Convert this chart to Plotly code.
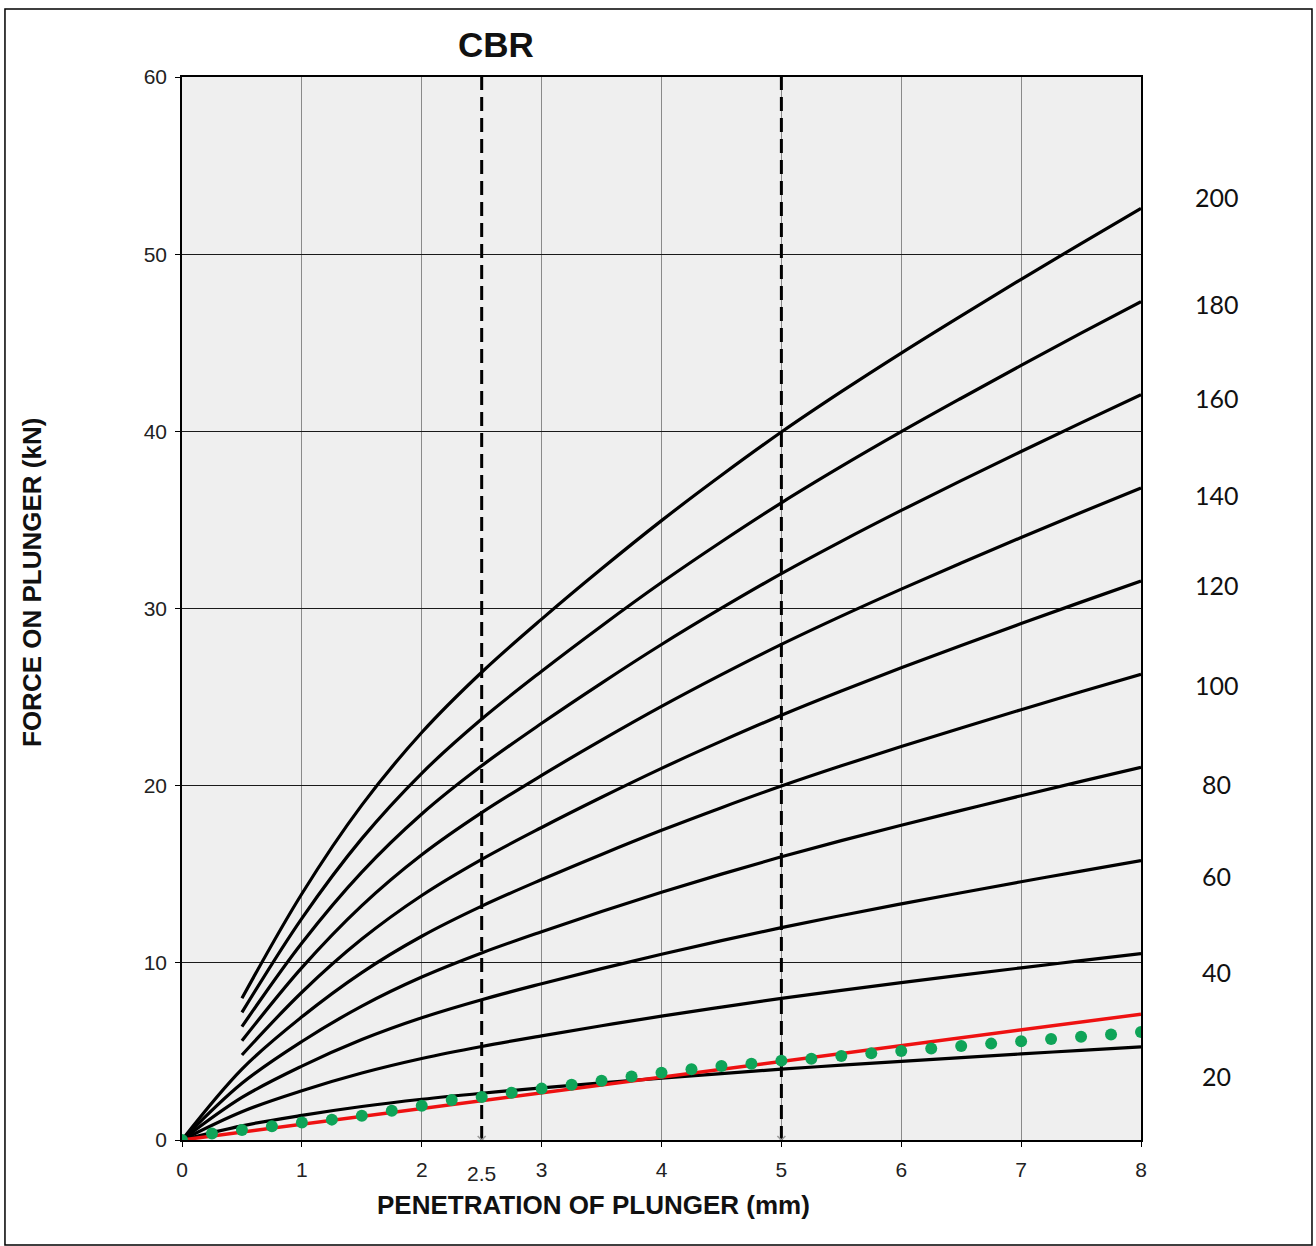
import plotly.graph_objects as go

# Penetration grid (mm) for the standard CBR curves
penetration = [0, 0.5, 1.0, 1.5, 2.0, 2.5, 3.0, 3.5, 4.0, 4.5, 5.0, 5.5, 6.0, 6.5, 7.0, 7.5, 8.0]
# Force on plunger (kN) for the 100 % standard curve
standard_force = [0, 4.0, 6.95, 9.45, 11.5, 13.2, 14.7, 16.12, 17.48, 18.76, 19.98, 21.12, 22.21, 23.26, 24.29, 25.3, 26.29]
# CBR levels (%) drawn as reference curves
cbr_levels = [20, 40, 60, 80, 100, 120, 140, 160, 180, 200]
# Levels at or above this CBR are only drawn from 0.5 mm onwards
start_from_half_mm = 120
# Vertical position (kN) of each CBR label at the right
cbr_label_y = [3.6, 9.5, 14.9, 20.1, 25.7, 31.3, 36.4, 41.9, 47.2, 53.2]

# Test readings
test_pen = [0, 0.25, 0.5, 0.75, 1.0, 1.25, 1.5, 1.75, 2.0, 2.25, 2.5, 2.75, 3.0, 3.25,
            3.5, 3.75, 4.0, 4.25, 4.5, 4.75, 5.0, 5.25, 5.5, 5.75, 6.0, 6.25, 6.5,
            6.75, 7.0, 7.25, 7.5, 7.75, 8.0]
test_force = [0, 0.37, 0.56, 0.77, 0.99, 1.15, 1.37, 1.65, 1.93, 2.26, 2.43, 2.67, 2.90, 3.12,
              3.35, 3.58, 3.80, 3.99, 4.18, 4.31, 4.48, 4.59, 4.74, 4.89, 5.02, 5.16, 5.31,
              5.44, 5.57, 5.70, 5.83, 5.96, 6.10]

# Linear fit through the origin
fit_pen = [0, 8.0]
fit_force = [0, 7.1]

# Standard penetrations for the CBR reading
reference_pen = [2.5, 5.0]

fig = go.Figure()

for level in cbr_levels:
    xs, ys = [], []
    for p, f in zip(penetration, standard_force):
        if level >= start_from_half_mm and p < 0.5:
            continue
        xs.append(p)
        ys.append(f * level / 100.0)
    fig.add_trace(go.Scatter(
        x=xs, y=ys, mode="lines",
        line=dict(color="black", width=3.2, shape="spline", smoothing=1.0),
        showlegend=False, hoverinfo="skip",
    ))

for rp in reference_pen:
    fig.add_trace(go.Scatter(
        x=[rp, rp], y=[0, 60], mode="lines",
        line=dict(color="black", width=3, dash="14px,7px"),
        showlegend=False, hoverinfo="skip",
    ))

fig.add_trace(go.Scatter(
    x=reference_pen, y=[0] * len(reference_pen), mode="markers",
    marker=dict(symbol="x-thin", size=8, line=dict(color="#999999", width=1.5)),
    showlegend=False, hoverinfo="skip",
))

fig.add_trace(go.Scatter(
    x=fit_pen, y=fit_force, mode="lines",
    line=dict(color="#ee1111", width=3.5),
    showlegend=False,
))

fig.add_trace(go.Scatter(
    x=test_pen, y=test_force, mode="markers",
    marker=dict(color="#0fa458", size=12),
    showlegend=False,
))

annotations = []
for level, ly in zip(cbr_levels, cbr_label_y):
    annotations.append(dict(
        x=1.0792, xref="paper", y=ly, yref="y", text=str(level), showarrow=False,
        font=dict(family="Lato", size=25, color="#111111"), xanchor="center", yanchor="middle",
    ))

annotations += [
    dict(x=0.3274, xref="paper", y=1.0, yref="paper", yshift=33, text="<b>CBR</b>", showarrow=False,
         font=dict(family="Liberation Sans", size=35, color="#111111"), xanchor="center", yanchor="middle"),
    dict(x=2.5, xref="x", y=0, yref="paper", yshift=-33, text="2.5", showarrow=False,
         font=dict(family="Liberation Sans", size=21, color="#222222"), xanchor="center", yanchor="middle"),
    dict(x=-0.1564, xref="paper", y=0.524, yref="paper", text="<b>FORCE ON PLUNGER (kN)</b>",
         textangle=-90, showarrow=False,
         font=dict(family="Liberation Sans", size=26, color="#111111"), xanchor="center", yanchor="middle"),
    dict(x=0.4296, xref="paper", y=-0.0611, yref="paper", text="<b>PENETRATION OF PLUNGER (mm)</b>",
         showarrow=False,
         font=dict(family="Liberation Sans", size=26, color="#111111"), xanchor="center", yanchor="middle"),
]

fig.update_layout(
    width=1316, height=1246,
    margin=dict(l=182, r=175, t=77, b=106),
    paper_bgcolor="white",
    plot_bgcolor="#efefef",
    annotations=annotations,
    shapes=[dict(type="rect", xref="paper", yref="paper",
                 x0=-0.1846, x1=1.1783, y0=-0.0988, y1=1.0640,
                 line=dict(color="black", width=1.5), fillcolor="rgba(0,0,0,0)", layer="below")],
)

fig.update_xaxes(
    range=[0, 8], dtick=1, tick0=0,
    showgrid=True, gridcolor="#8a8a8a", gridwidth=1,
    showline=True, linecolor="black", linewidth=1.5, mirror=True,
    ticks="outside", ticklen=5, tickcolor="black", ticklabelstandoff=5,
    tickfont=dict(family="Liberation Sans", size=21, color="#222222"),
    zeroline=False,
)
fig.update_yaxes(
    range=[0, 60], dtick=10, tick0=0,
    showgrid=True, gridcolor="#1a1a1a", gridwidth=1.2,
    showline=True, linecolor="black", linewidth=1.5, mirror=True,
    ticks="outside", ticklen=5, tickcolor="black", ticklabelstandoff=4,
    tickfont=dict(family="Liberation Sans", size=21, color="#222222"),
    zeroline=False,
)

fig.write_html("out.html")
